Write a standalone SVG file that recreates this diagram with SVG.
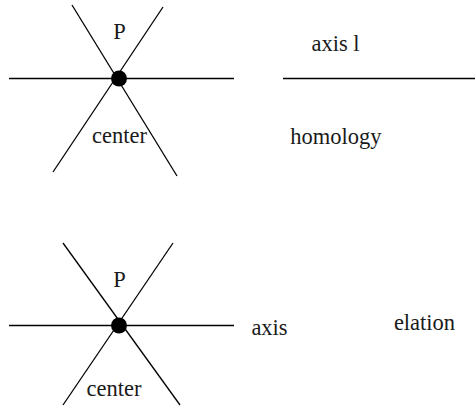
<svg xmlns="http://www.w3.org/2000/svg" width="475" height="410" viewBox="0 0 475 410">
<style>
.ln{stroke:#000;stroke-width:1.3;fill:none}
.t{font-family:"Liberation Serif","Times New Roman",serif;font-size:22.5px;fill:#1a1a1a}
.dot{fill:#000}
</style>
<rect width="475" height="410" fill="#fff"/>
<g id="connectors">
<line class="ln" x1="9" y1="78.5" x2="234" y2="78.5"/>
<line class="ln" x1="72" y1="5" x2="177" y2="176"/>
<line class="ln" x1="163" y1="7" x2="53" y2="172"/>
<line class="ln" x1="283" y1="78.5" x2="475" y2="78.5"/>
<line class="ln" x1="9" y1="325.5" x2="234" y2="325.5"/>
<line class="ln" x1="63" y1="243" x2="180" y2="405"/>
<line class="ln" x1="173" y1="243" x2="63" y2="405"/>
</g>
<g id="top-center">
<circle class="dot" cx="119" cy="78.5" r="8"/>
<text class="t" x="119.5" y="39" text-anchor="middle">P</text>
<text class="t" x="119.5" y="143" text-anchor="middle">center</text>
</g>
<g id="top-axis">
<text class="t" x="335.5" y="51" text-anchor="middle">axis l</text>
</g>
<g id="homology">
<text class="t" x="336" y="144" text-anchor="middle">homology</text>
</g>
<g id="bottom-center">
<circle class="dot" cx="119" cy="325.5" r="8"/>
<text class="t" x="119.5" y="287" text-anchor="middle">P</text>
<text class="t" x="114" y="396" text-anchor="middle">center</text>
</g>
<g id="bottom-axis">
<text class="t" x="269.5" y="335" text-anchor="middle">axis</text>
</g>
<g id="elation">
<text class="t" x="424.5" y="330" text-anchor="middle">elation</text>
</g>
</svg>
